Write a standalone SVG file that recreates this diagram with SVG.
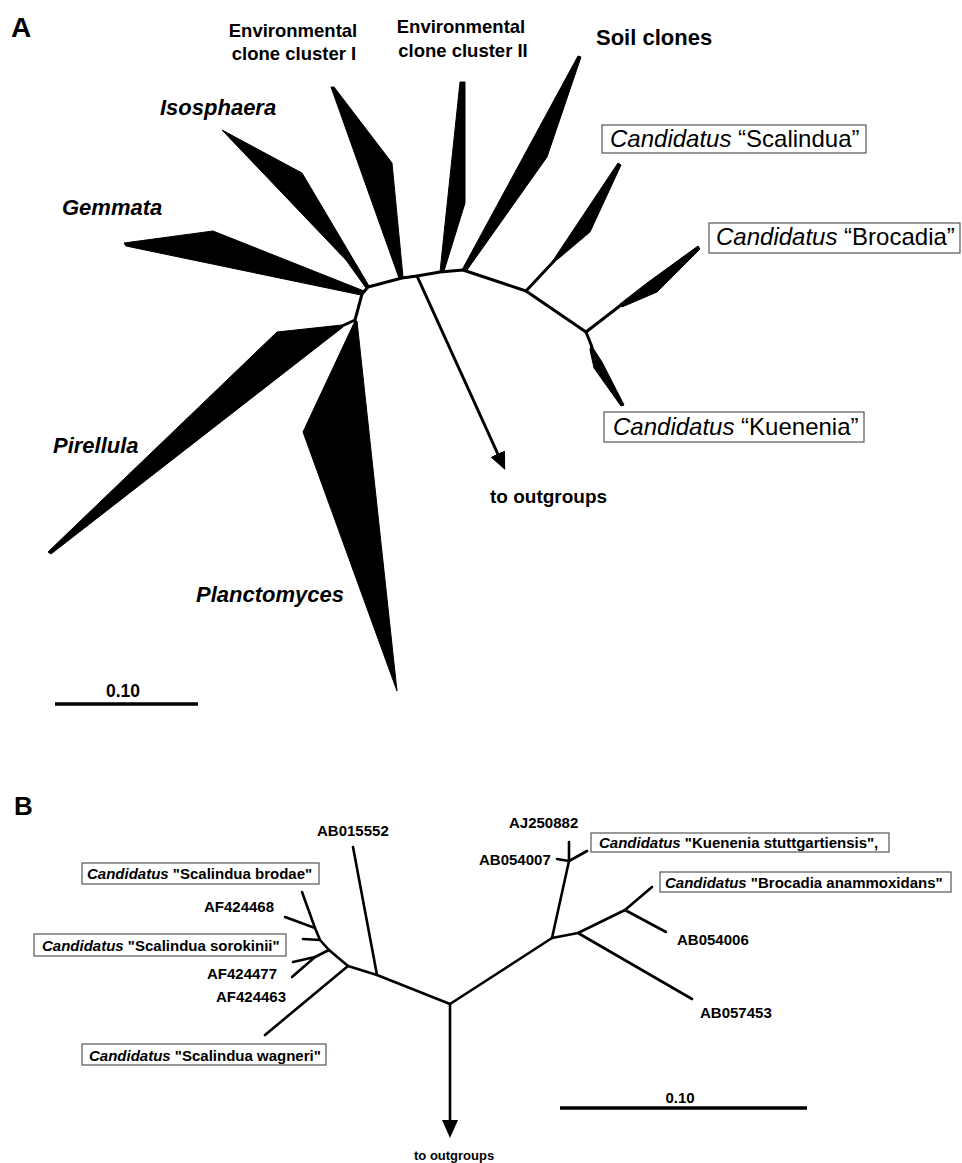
<svg xmlns="http://www.w3.org/2000/svg" width="962" height="1163" viewBox="0 0 962 1163">
<defs>
<style>
text{font-family:"Liberation Sans",Arial,sans-serif;fill:#000}
.panel{font-size:28px;font-weight:bold}
.env{font-size:18.5px;font-weight:bold;text-anchor:middle}
.taxon{font-size:22px;font-weight:bold;font-style:italic}
.big{font-size:22px;font-weight:bold}
.cand{font-size:24px}
.it{font-style:italic}
.small{font-size:15px;font-weight:bold}
.tiny{font-size:13px;font-weight:bold}
.box{fill:#fff;stroke:#555;stroke-width:1.2}
.wedge{fill:#000;stroke:#000;stroke-width:1;stroke-linejoin:round}
.br{fill:none;stroke:#000;stroke-width:3;stroke-linejoin:round;stroke-linecap:round}
.brb{fill:none;stroke:#000;stroke-width:2.6;stroke-linejoin:round;stroke-linecap:round}
.bar{stroke:#000;stroke-width:3.5}
</style>
<marker id="ah" viewBox="0 0 18 16" refX="8" refY="8" markerWidth="18" markerHeight="16" markerUnits="userSpaceOnUse" orient="auto"><path d="M0,0 L18,8 L0,16 z" fill="#000"/></marker>
</defs>
<rect width="962" height="1163" fill="#fff"/>

<!-- Panel A -->
<text class="panel" x="11" y="37">A</text>

<g id="connectors-a">
<polyline class="br" points="362,294 368,287 402,278 417,276 440,272 463,270 526,291 586,332"/>
<polyline class="br" points="362,294 355,320 342,326"/>
<line class="br" x1="526" y1="291" x2="555" y2="260"/>
<line class="br" x1="586" y1="332" x2="621" y2="305"/>
<line class="br" x1="586" y1="332" x2="592" y2="347"/>
<line class="br" x1="417" y1="276" x2="501" y2="461" stroke-width="2.6" marker-end="url(#ah)"/>
</g>

<g id="node-isosphaera">
<polygon class="wedge" points="222,130 302,173 369,286 366,288 346,260"/>
<text class="taxon" x="160" y="115">Isosphaera</text>
</g>
<g id="node-env1">
<polygon class="wedge" points="331,87 334,87 392,163 403,277 399,278"/>
<text class="env" x="293" y="37">Environmental</text>
<text class="env" x="294" y="60">clone cluster I</text>
</g>
<g id="node-env2">
<polygon class="wedge" points="440,272 460,82 465,82 465,203 444,271"/>
<text class="env" x="461" y="33">Environmental</text>
<text class="env" x="463" y="57">clone cluster II</text>
</g>
<g id="node-soil">
<polygon class="wedge" points="462,270 578,56 581,57 547,157 467,270"/>
<text class="big" x="596" y="45">Soil clones</text>
</g>
<g id="node-gemmata">
<polygon class="wedge" points="124,243 213,231 364,291 361,295 126,246"/>
<text class="taxon" x="62" y="215">Gemmata</text>
</g>
<g id="node-pirellula">
<polygon class="wedge" points="48,552 277,332 342,325 343,327 51,554"/>
<text class="taxon" x="53" y="453">Pirellula</text>
</g>
<g id="node-planctomyces">
<polygon class="wedge" points="355,321 303,432 397,691 357,321"/>
<text class="taxon" x="196" y="602">Planctomyces</text>
</g>
<g id="node-scalindua">
<polygon class="wedge" points="552,262 618,163 621,165 590,232 558,259"/>
<rect class="box" x="602" y="125" width="264" height="28"/>
<text class="cand" x="610" y="147"><tspan class="it">Candidatus</tspan> “Scalindua”</text>
</g>
<g id="node-brocadia">
<polygon class="wedge" points="620,304 647,283 698,246 700,249 657,292 622,307"/>
<rect class="box" x="709" y="223" width="251" height="30"/>
<text class="cand" x="716" y="245"><tspan class="it">Candidatus</tspan> “Brocadia”</text>
</g>
<g id="node-kuenenia">
<polygon class="wedge" points="591,345 602,362 624,405 621,406 594,368 590,350"/>
<rect class="box" x="604" y="412" width="260" height="30"/>
<text class="cand" x="613" y="435"><tspan class="it">Candidatus</tspan> “Kuenenia”</text>
</g>
<g id="node-outgroups-a">
<text x="490" y="503" style="font-size:19px;font-weight:bold">to outgroups</text>
</g>
<g id="scale-a">
<text x="123" y="697" style="font-size:17.5px;font-weight:bold;text-anchor:middle">0.10</text>
<line class="bar" x1="55" y1="704" x2="198" y2="704"/>
</g>

<!-- Panel B -->
<text class="panel" x="14" y="815" style="font-size:26px">B</text>

<g id="connectors-b">
<polyline class="brb" points="450,1004 377,975 348,966 329,950 320,940 315,928 302,892"/>
<line class="brb" x1="377" y1="975" x2="353" y2="847"/>
<line class="brb" x1="348" y1="966" x2="265" y2="1035"/>
<polyline class="brb" points="329,950 315,957 293,962"/>
<line class="brb" x1="315" y1="957" x2="292" y2="977"/>
<line class="brb" x1="320" y1="940" x2="303" y2="939"/>
<line class="brb" x1="315" y1="928" x2="285" y2="917"/>
<polyline class="brb" points="450,1004 552,938 578,933 625,910 652,887"/>
<line class="brb" x1="625" y1="910" x2="666" y2="932"/>
<line class="brb" x1="578" y1="933" x2="692" y2="999"/>
<polyline class="brb" points="552,938 569,861 569,842"/>
<line class="brb" x1="569" y1="861" x2="557" y2="859"/>
<line class="brb" x1="569" y1="861" x2="587" y2="851"/>
<line class="brb" x1="450" y1="1004" x2="450" y2="1128" marker-end="url(#ah)"/>
</g>

<g id="node-ab015552"><text class="small" x="317" y="836">AB015552</text></g>
<g id="node-brodae">
<rect class="box" x="82" y="863" width="237" height="21"/>
<text class="small" x="87" y="879"><tspan class="it">Candidatus</tspan> "Scalindua brodae"</text>
</g>
<g id="node-af424468"><text class="small" x="204" y="912">AF424468</text></g>
<g id="node-sorokinii">
<rect class="box" x="34" y="934" width="252" height="22"/>
<text class="small" x="42" y="951"><tspan class="it">Candidatus</tspan> "Scalindua sorokinii"</text>
</g>
<g id="node-af424477"><text class="small" x="207" y="979">AF424477</text></g>
<g id="node-af424463"><text class="small" x="216" y="1002">AF424463</text></g>
<g id="node-wagneri">
<rect class="box" x="82" y="1044" width="244" height="21"/>
<text class="small" x="89" y="1061"><tspan class="it">Candidatus</tspan> "Scalindua wagneri"</text>
</g>
<g id="node-aj250882"><text class="small" x="509" y="828">AJ250882</text></g>
<g id="node-ab054007"><text class="small" x="479" y="865">AB054007</text></g>
<g id="node-kuenenia-st">
<rect class="box" x="591" y="833" width="298" height="19"/>
<text class="small" x="599" y="848"><tspan class="it">Candidatus</tspan> "Kuenenia stuttgartiensis",</text>
</g>
<g id="node-brocadia-an">
<rect class="box" x="660" y="872" width="291" height="20"/>
<text class="small" x="665" y="888"><tspan class="it">Candidatus</tspan> "Brocadia anammoxidans"</text>
</g>
<g id="node-ab054006"><text class="small" x="677" y="945">AB054006</text></g>
<g id="node-ab057453"><text class="small" x="700" y="1018">AB057453</text></g>
<g id="node-outgroups-b"><text class="tiny" x="414" y="1160">to outgroups</text></g>
<g id="scale-b">
<text class="small" x="680" y="1103" style="text-anchor:middle">0.10</text>
<line class="bar" x1="560" y1="1108" x2="807" y2="1108"/>
</g>
</svg>
